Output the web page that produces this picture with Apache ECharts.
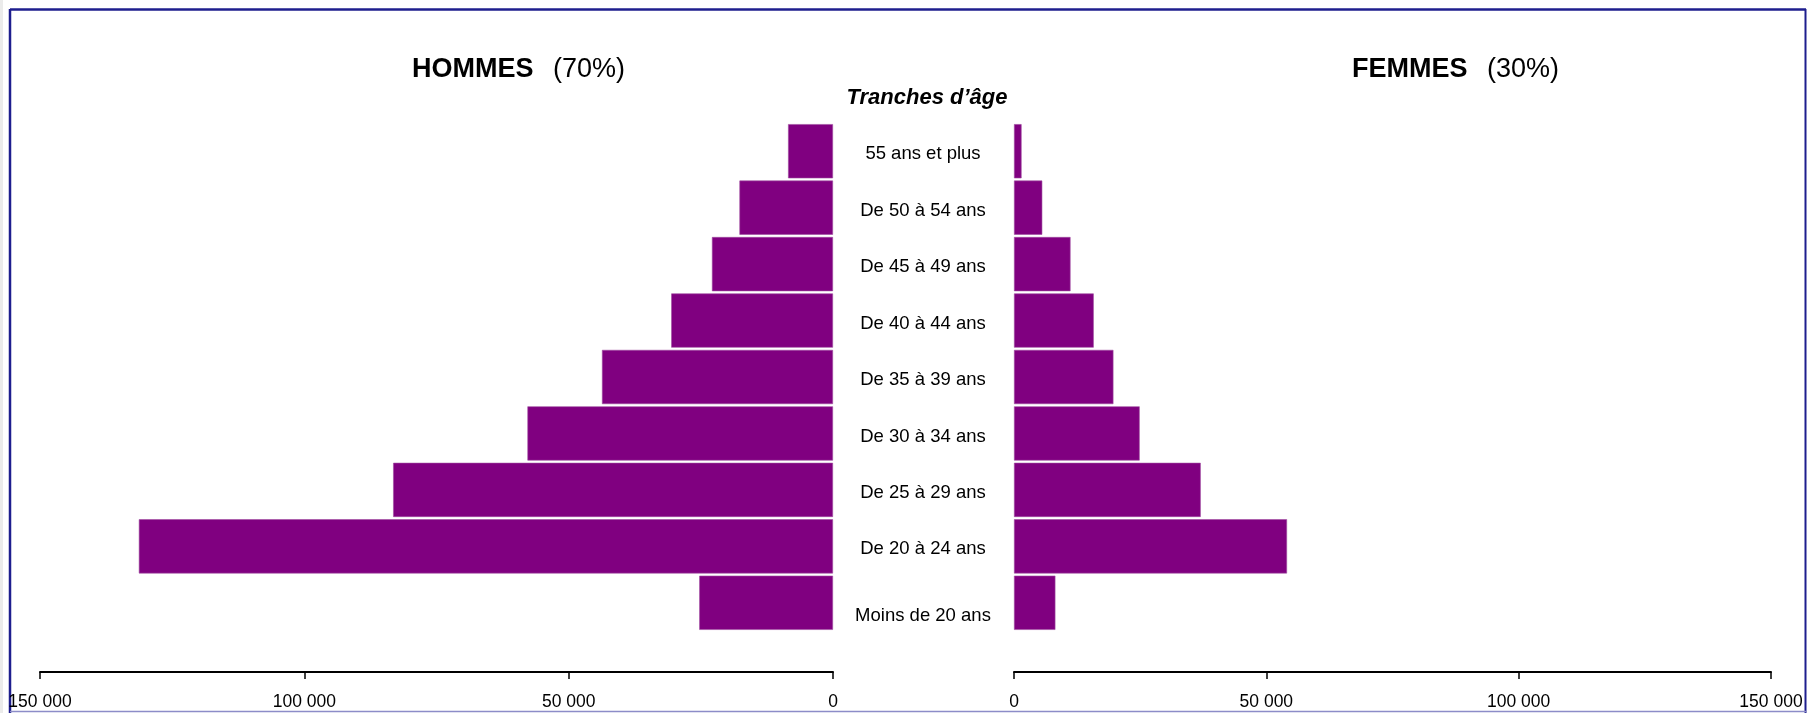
<!DOCTYPE html>
<html>
<head>
<meta charset="utf-8">
<script src="https://cdn.jsdelivr.net/npm/echarts@6/dist/echarts.min.js"></script>
<style>
  html, body { margin: 0; padding: 0; background: #ffffff; }
  #chart { width: 1807px; height: 713px; }
</style>
</head>
<body>
<div id="chart"></div>
<script>
// Age groups, listed from the top of the pyramid down
const categories = [
  '55 ans et plus',
  'De 50 à 54 ans',
  'De 45 à 49 ans',
  'De 40 à 44 ans',
  'De 35 à 39 ans',
  'De 30 à 34 ans',
  'De 25 à 29 ans',
  'De 20 à 24 ans',
  'Moins de 20 ans'
];

// Headcount per age group
const hommes = [8500, 17700, 22900, 30600, 43700, 57800, 83200, 131300, 25300];
const femmes = [1500, 5600, 11200, 15800, 19700, 24900, 37000, 54100, 8200];

// Shared scale for both halves
const axisMin = 0;
const axisMax = 150000;
const axisStep = 50000;

const BAR_COLOR = '#800080';
const TEXT_FONT = "'Liberation Sans', Arial, sans-serif";

function fmtThousands(v) {
  return String(v).replace(/\B(?=(\d{3})+(?!\d))/g, ' ');
}

function valueAxis(gridIndex, inverse) {
  return {
    type: 'value',
    gridIndex: gridIndex,
    inverse: inverse,
    min: axisMin,
    max: axisMax,
    interval: axisStep,
    position: 'bottom',
    offset: 41,
    splitLine: { show: false },
    axisLine: { show: true, lineStyle: { color: '#000000', width: 2 } },
    axisTick: { show: true, length: 7, lineStyle: { color: '#000000', width: 1.5 } },
    axisLabel: {
      margin: 21,
      color: '#000000',
      fontFamily: TEXT_FONT,
      fontSize: 17.5,
      formatter: fmtThousands
    }
  };
}

const labelText = { color: '#000000', fontFamily: TEXT_FONT, fontSize: 18.5 };

const chart = echarts.init(document.getElementById('chart'), null, { renderer: 'canvas' });

chart.setOption({
  backgroundColor: '#ffffff',
  animation: false,
  grid: [
    { left: 40, width: 793, top: 123, height: 508, containLabel: false },
    { left: 1014, width: 757, top: 123, height: 508, containLabel: false }
  ],
  xAxis: [
    valueAxis(0, true),
    valueAxis(1, false)
  ],
  yAxis: [
    {
      type: 'category',
      gridIndex: 0,
      inverse: true,
      data: categories,
      position: 'right',
      axisLine: { show: false },
      axisTick: { show: false },
      splitLine: { show: false },
      axisLabel: {
        margin: 90,
        align: 'center',
        color: '#000000',
        fontFamily: TEXT_FONT,
        fontSize: 18.5,
        formatter: function (v, i) {
          return (i === categories.length - 1 ? '{low|' : '{n|') + v + '}';
        },
        rich: {
          n: Object.assign({ padding: [6, 0, 0, 0] }, labelText),
          low: Object.assign({ padding: [26, 0, 0, 0] }, labelText)
        }
      }
    },
    {
      type: 'category',
      gridIndex: 1,
      inverse: true,
      data: categories,
      show: false
    }
  ],
  series: [
    {
      name: 'Hommes',
      type: 'bar',
      xAxisIndex: 0,
      yAxisIndex: 0,
      data: hommes,
      barCategoryGap: '4%',
      itemStyle: { color: BAR_COLOR, borderColor: '#a04ca0', borderWidth: 0.6 },
      silent: true
    },
    {
      name: 'Femmes',
      type: 'bar',
      xAxisIndex: 1,
      yAxisIndex: 1,
      data: femmes,
      barCategoryGap: '4%',
      itemStyle: { color: BAR_COLOR, borderColor: '#a04ca0', borderWidth: 0.6 },
      silent: true
    }
  ],
  graphic: [
    // frame
    { type: 'rect', shape: { x: 0, y: 0, width: 3, height: 713 }, style: { fill: '#ebebeb' }, silent: true },
    { type: 'line', shape: { x1: 10, y1: 9.5, x2: 1806, y2: 9.5 }, style: { stroke: '#1e1e8e', lineWidth: 2.5 }, silent: true },
    { type: 'line', shape: { x1: 10, y1: 9, x2: 10, y2: 713 }, style: { stroke: '#1e1e8e', lineWidth: 2.5 }, silent: true },
    { type: 'line', shape: { x1: 1805.5, y1: 9, x2: 1805.5, y2: 713 }, style: { stroke: '#1e1e8e', lineWidth: 2 }, silent: true },
    { type: 'line', shape: { x1: 10, y1: 711.5, x2: 1806, y2: 711.5 }, style: { stroke: '#8c8cc8', lineWidth: 1.5 }, silent: true },
    // headings
    { type: 'text', x: 412, y: 70, style: { text: 'HOMMES', fill: '#000000', font: "bold 27px 'Liberation Sans', Arial, sans-serif", textVerticalAlign: 'middle', verticalAlign: 'middle' }, silent: true },
    { type: 'text', x: 553, y: 70, style: { text: '(70%)', fill: '#000000', font: "27px 'Liberation Sans', Arial, sans-serif", textVerticalAlign: 'middle', verticalAlign: 'middle' }, silent: true },
    { type: 'text', x: 1352, y: 70, style: { text: 'FEMMES', fill: '#000000', font: "bold 27px 'Liberation Sans', Arial, sans-serif", textVerticalAlign: 'middle', verticalAlign: 'middle' }, silent: true },
    { type: 'text', x: 1487, y: 70, style: { text: '(30%)', fill: '#000000', font: "27px 'Liberation Sans', Arial, sans-serif", textVerticalAlign: 'middle', verticalAlign: 'middle' }, silent: true },
    { type: 'text', x: 927, y: 98, style: { text: 'Tranches d\u2019âge', fill: '#000000', font: "italic bold 22px 'Liberation Sans', Arial, sans-serif", align: 'center', textAlign: 'center', textVerticalAlign: 'middle', verticalAlign: 'middle' }, silent: true }
  ]
});
</script>
</body>
</html>
